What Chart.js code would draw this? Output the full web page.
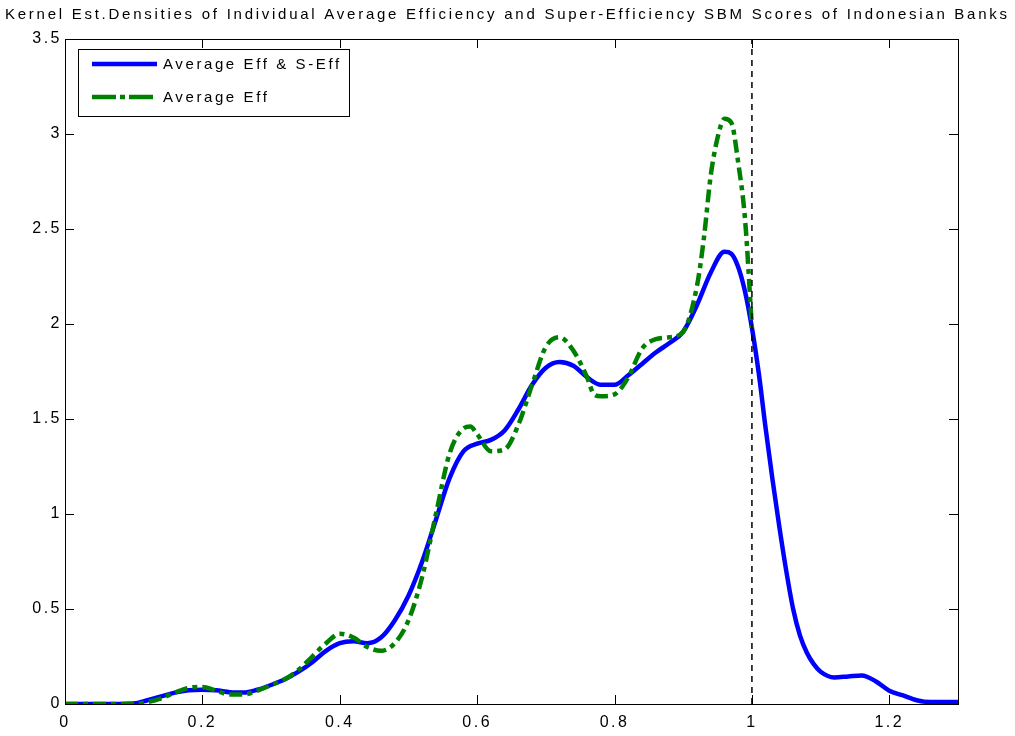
<!DOCTYPE html>
<html>
<head>
<meta charset="utf-8">
<title>Kernel Est. Densities</title>
<script src="https://cdn.jsdelivr.net/npm/chart.js@4.4.1/dist/chart.umd.min.js"></script>
<style>
  html, body { margin: 0; padding: 0; background: #fff; }
  #wrap { position: relative; width: 1015px; height: 736px; }
</style>
</head>
<body>
<div id="wrap"><canvas id="kdeChart"></canvas></div>
<script>
const titleText = 'Kernel Est.Densities of Individual Average Efficiency and Super-Efficiency SBM Scores of Indonesian Banks';
const seriesNames = ['Average Eff & S-Eff', 'Average Eff'];

// Average Eff & S-Eff (blue, solid)
const effSx = [0, 0.05, 0.10, 0.12, 0.14, 0.16, 0.18, 0.20, 0.22, 0.24, 0.26, 0.28, 0.30, 0.32, 0.34, 0.36, 0.38,
  0.40, 0.42, 0.44, 0.46, 0.48, 0.50, 0.52, 0.54, 0.56, 0.58, 0.60, 0.62, 0.64, 0.66, 0.68, 0.70, 0.72, 0.74, 0.76,
  0.78, 0.80, 0.82, 0.84, 0.86, 0.88, 0.90, 0.92, 0.94, 0.96, 0.97, 0.98, 0.99, 1.00, 1.01, 1.02, 1.03, 1.04, 1.05,
  1.06, 1.07, 1.08, 1.09, 1.10, 1.12, 1.14, 1.16, 1.18, 1.20, 1.22, 1.24, 1.26, 1.28, 1.30];
const effSy = [0, 0, 0.003, 0.02, 0.04, 0.06, 0.072, 0.075, 0.072, 0.062, 0.06, 0.075, 0.10, 0.13, 0.17, 0.22, 0.28,
  0.32, 0.33, 0.32, 0.35, 0.44, 0.57, 0.75, 0.97, 1.19, 1.33, 1.37, 1.39, 1.44, 1.55, 1.68, 1.77, 1.80, 1.78, 1.72,
  1.68, 1.68, 1.73, 1.79, 1.85, 1.90, 1.96, 2.10, 2.27, 2.38, 2.37, 2.30, 2.17, 1.98, 1.74, 1.45, 1.18, 0.93, 0.70,
  0.50, 0.36, 0.27, 0.21, 0.17, 0.14, 0.145, 0.15, 0.12, 0.07, 0.045, 0.02, 0.01, 0.01, 0.01];

// Average Eff (green, dash-dot)
const effX = [0, 0.05, 0.10, 0.12, 0.14, 0.16, 0.18, 0.20, 0.22, 0.24, 0.26, 0.28, 0.30, 0.32, 0.34, 0.36, 0.38,
  0.40, 0.42, 0.44, 0.46, 0.48, 0.50, 0.52, 0.54, 0.56, 0.58, 0.59, 0.60, 0.62, 0.64, 0.66, 0.68, 0.70, 0.72, 0.74,
  0.76, 0.77, 0.78, 0.80, 0.82, 0.84, 0.86, 0.88, 0.90, 0.92, 0.93, 0.94, 0.95, 0.96, 0.97, 0.98, 0.99, 1.00];
const effY = [0, 0, 0, 0.01, 0.03, 0.06, 0.085, 0.09, 0.07, 0.05, 0.05, 0.07, 0.10, 0.13, 0.18, 0.25, 0.32,
  0.37, 0.35, 0.30, 0.28, 0.32, 0.44, 0.67, 1.00, 1.32, 1.45, 1.46, 1.42, 1.33, 1.34, 1.47, 1.68, 1.88, 1.93, 1.86,
  1.72, 1.63, 1.62, 1.63, 1.72, 1.87, 1.92, 1.93, 1.96, 2.20, 2.45, 2.78, 2.98, 3.08, 3.06, 2.85, 2.55, 1.98];

// vertical reference line at efficiency = 1
const refX = [1, 1];
const refY = [0, 3.5];

const xTicks = [0, 0.2, 0.4, 0.6, 0.8, 1, 1.2];
const yTicks = [0, 0.5, 1, 1.5, 2, 2.5, 3, 3.5];

const toPoints = (xs, ys) => xs.map((x, i) => ({ x: x, y: ys[i] }));
const fmt = v => String(Number(v.toFixed(2)));

const FONT = '"Liberation Sans", Arial, sans-serif';

// MATLAB-like box with inward ticks, legend and title
const matlabFrame = {
    id: 'matlabFrame',
    beforeDraw(chart) {
        chart.ctx.letterSpacing = '2.5px';
    },
    afterDraw(chart) {
        const ctx = chart.ctx;
        const a = chart.chartArea;
        const xs = chart.scales.x, ys = chart.scales.y;
        const tl = 9;

        ctx.save();
        ctx.strokeStyle = '#000';
        ctx.lineWidth = 1;
        ctx.setLineDash([]);
        ctx.strokeRect(a.left + 0.5, a.top + 0.5, a.right - a.left, a.bottom - a.top);
        ctx.beginPath();
        xTicks.forEach(v => {
            const px = Math.round(xs.getPixelForValue(v)) + 0.5;
            ctx.moveTo(px, a.bottom); ctx.lineTo(px, a.bottom - tl);
            ctx.moveTo(px, a.top); ctx.lineTo(px, a.top + tl);
        });
        yTicks.forEach(v => {
            const py = Math.round(ys.getPixelForValue(v)) + 0.5;
            ctx.moveTo(a.left, py); ctx.lineTo(a.left + tl, py);
            ctx.moveTo(a.right, py); ctx.lineTo(a.right - tl, py);
        });
        ctx.stroke();

        // legend
        const lx = 78.5, ly = 49.5, lw = 271, lh = 67;
        ctx.fillStyle = '#fff';
        ctx.fillRect(lx, ly, lw, lh);
        ctx.strokeRect(lx, ly, lw, lh);
        const rows = [
            { ds: chart.data.datasets[1], y: 64, dash: [] },
            { ds: chart.data.datasets[0], y: 97, dash: [24, 4, 5, 4] }
        ];
        ctx.font = '15px ' + FONT;
        ctx.letterSpacing = '2.6px';
        ctx.textBaseline = 'middle';
        ctx.textAlign = 'left';
        rows.forEach(r => {
            ctx.beginPath();
            ctx.strokeStyle = r.ds.borderColor;
            ctx.lineWidth = 4.5;
            ctx.setLineDash(r.dash);
            ctx.moveTo(92, r.y); ctx.lineTo(157, r.y);
            ctx.stroke();
            ctx.fillStyle = '#000';
            ctx.fillText(r.ds.label, 163, r.y + 1);
        });

        // title, stretched to the width used in the figure
        ctx.font = '15px ' + FONT;
        ctx.letterSpacing = '0px';
        const w = ctx.measureText(titleText).width;
        const sp = (1005 - w) / titleText.length;
        ctx.letterSpacing = sp.toFixed(2) + 'px';
        ctx.textAlign = 'left';
        ctx.fillText(titleText, 5, 15);
        ctx.restore();
        ctx.letterSpacing = '0px';
    }
};

new Chart(document.getElementById('kdeChart'), {
    type: 'line',
    data: {
        datasets: [
            {
                label: seriesNames[1],
                data: toPoints(effX, effY),
                borderColor: '#008000',
                borderWidth: 4.5,
                borderDash: [13, 5, 5, 5],
                pointRadius: 0,
                cubicInterpolationMode: 'monotone',
                order: 1
            },
            {
                label: seriesNames[0],
                data: toPoints(effSx, effSy),
                borderColor: '#0000ff',
                borderWidth: 4.5,
                pointRadius: 0,
                cubicInterpolationMode: 'monotone',
                order: 2
            },
            {
                label: 'ref',
                data: toPoints(refX, refY),
                borderColor: '#000',
                borderWidth: 1.5,
                borderDash: [6, 5],
                pointRadius: 0,
                order: 0
            }
        ]
    },
    options: {
        responsive: true,
        maintainAspectRatio: false,
        animation: false,
        layout: { padding: { left: 0, right: 57, top: 39, bottom: 0 } },
        plugins: {
            legend: { display: false },
            title: { display: false },
            tooltip: { enabled: false }
        },
        scales: {
            x: {
                type: 'linear',
                min: 0,
                max: 1.3,
                grid: { display: false, drawTicks: false },
                border: { display: false },
                afterBuildTicks: s => { s.ticks = xTicks.map(v => ({ value: v })); },
                afterFit: s => { s.height = 32; },
                ticks: {
                    color: '#000',
                    padding: 9,
                    maxRotation: 0,
                    font: { family: FONT, size: 16 },
                    callback: v => fmt(v)
                }
            },
            y: {
                type: 'linear',
                min: 0,
                max: 3.5,
                grid: { display: false, drawTicks: false },
                border: { display: false },
                afterBuildTicks: s => { s.ticks = yTicks.map(v => ({ value: v })); },
                afterFit: s => { s.width = 65; },
                ticks: {
                    color: '#000',
                    padding: 3,
                    font: { family: FONT, size: 16 },
                    callback: v => fmt(v)
                }
            }
        }
    },
    plugins: [matlabFrame]
});
</script>
</body>
</html>
